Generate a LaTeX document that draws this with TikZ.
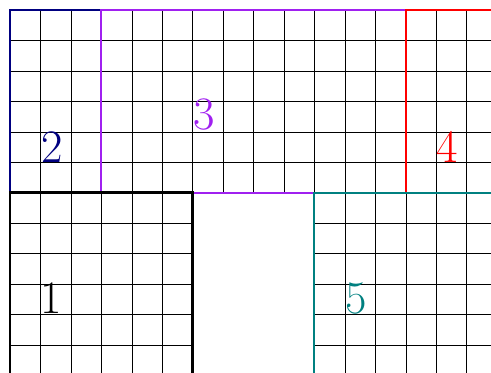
\documentclass[tikz,border=0pt]{standalone}
\usepackage{tikz}
\usetikzlibrary{positioning}
\definecolor{regnavy}{RGB}{0,0,128}
\definecolor{regviolet}{RGB}{160,32,240}

\begin{document}
\begin{tikzpicture}[cell/.style={line width=0.4pt}, border/.style={line width=1.8pt},
    num/.style={font=\fontsize{43.5}{50}\selectfont, inner sep=0pt}]
      \useasboundingbox (-0.328,-5.92) rectangle (15.80,6.328);
      \clip (-0.328,-5.92) rectangle (15.80,6.328);
      % grids
      \draw[cell] (0,0) grid (16,6);
      \draw[cell] (0,-6) grid (6,0);
      \draw[cell] (10,-6) grid (16,0);
      % regions
      \draw[border, regnavy] (0,0) rectangle (3,6);
      \draw[border, regviolet] (3,0) rectangle (13,6);
      \draw[border, line width=2.6pt] (0,-6) rectangle (6,0);
      \draw[border, red] (13,0) rectangle (16,6);
      \draw[border, teal] (10,-6) rectangle (16,0);
      % labels
      \node[num] (n1) at (1.36,-3.47) {1};
      \node[num, regnavy] (n2) at (1.37,1.51) {2};
      \node[num, regviolet] (n3) at (6.37,2.56) {3};
      \node[num, red] (n4) at (14.37,1.51) {4};
      \node[num, teal] (n5) at (11.37,-3.47) {5};
    \end{tikzpicture}
\end{document}
